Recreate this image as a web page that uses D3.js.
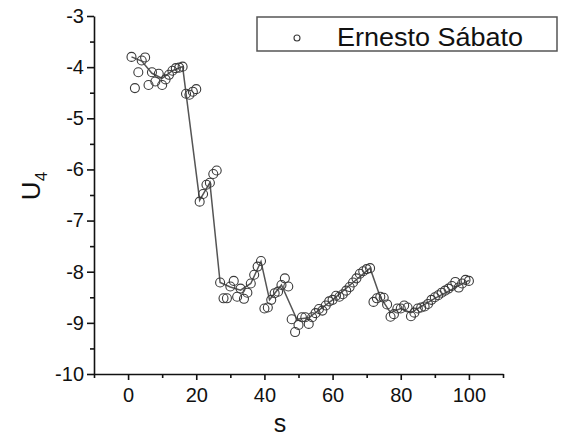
<!DOCTYPE html>
<html>
<head>
<meta charset="utf-8">
<script src="https://cdn.jsdelivr.net/npm/d3@7"></script>
<style>
  body { margin: 0; background: #fff; }
  text { font-family: "Liberation Sans", Arial, sans-serif; fill: #111; }
  .axis path, .axis line { stroke: #111; stroke-width: 1.6; }
  .axis text { font-size: 20px; }
</style>
</head>
<body>
<svg id="chart" width="561" height="441"></svg>
<script>
// step values (s) and U4 values
var steps = d3.range(1, 101);
var u4 = [
  -3.80, -4.41, -4.10, -3.87, -3.81, -4.35, -4.10, -4.28, -4.13, -4.35,
  -4.24, -4.15, -4.07, -4.02, -4.01, -3.99, -4.52, -4.54, -4.48, -4.43,
  -6.63, -6.48, -6.30, -6.26, -6.09, -6.02, -8.21, -8.52, -8.52, -8.29,
  -8.18, -8.49, -8.33, -8.53, -8.41, -8.23, -8.06, -7.90, -7.79, -8.72,
  -8.70, -8.55, -8.42, -8.39, -8.26, -8.13, -8.29, -8.93, -9.18, -9.04,
  -8.89, -8.89, -9.02, -8.89, -8.81, -8.73, -8.76, -8.66, -8.58, -8.55,
  -8.47, -8.49, -8.44, -8.37, -8.30, -8.21, -8.13, -8.04, -7.99, -7.95,
  -7.93, -8.59, -8.52, -8.49, -8.51, -8.64, -8.88, -8.83, -8.72, -8.72,
  -8.66, -8.70, -8.87, -8.80, -8.72, -8.70, -8.68, -8.63, -8.55, -8.50,
  -8.46, -8.41, -8.37, -8.33, -8.28, -8.20, -8.31, -8.23, -8.16, -8.18
];

// the grey guide line drawn under the points
var lineS = [1, 4, 7, 10, 13, 16, 21, 24, 27, 30, 33, 36, 39, 41.5, 45, 49.5, 53, 60, 66, 71, 74, 77, 80, 83, 90, 100];
var lineU = [-3.80, -3.88, -4.12, -4.22, -4.07, -3.99, -6.60, -6.26, -8.21, -8.30, -8.36, -8.23, -7.80, -8.55, -8.26, -8.93, -8.90, -8.55, -8.21, -7.93, -8.50, -8.80, -8.72, -8.80, -8.52, -8.17];

var xMajor = [0, 20, 40, 60, 80, 100];
var xMinor = [-10, 10, 30, 50, 70, 90, 110];
var yMajor = [-10, -9, -8, -7, -6, -5, -4, -3];
var yMinor = [-9.5, -8.5, -7.5, -6.5, -5.5, -4.5, -3.5];
var seriesName = "Ernesto Sábato";

var svg = d3.select("#chart");

var x = d3.scaleLinear().domain([-10, 110]).range([94, 503]);
var y = d3.scaleLinear().domain([-10, -3]).range([374, 16]);

// guide line
var pts = lineS.map(function (s, i) { return [s, lineU[i]]; });
svg.append("path")
  .datum(pts)
  .attr("fill", "none")
  .attr("stroke", "#555")
  .attr("stroke-width", 1.5)
  .attr("d", d3.line()
    .x(function (d) { return x(d[0]); })
    .y(function (d) { return y(d[1]); }));

// points
svg.append("g").selectAll("circle")
  .data(steps)
  .enter().append("circle")
  .attr("cx", function (d) { return x(d); })
  .attr("cy", function (d, i) { return y(u4[i]); })
  .attr("r", 4.5)
  .attr("fill", "none")
  .attr("stroke", "#3a3a3a")
  .attr("stroke-width", 1.1);

// x axis
svg.append("g")
  .attr("class", "axis")
  .attr("transform", "translate(0,374)")
  .call(d3.axisBottom(x).tickValues(xMinor).tickSize(4).tickSizeOuter(0).tickFormat(""));
svg.append("g")
  .attr("class", "axis")
  .attr("transform", "translate(0,374)")
  .call(d3.axisBottom(x).tickValues(xMajor).tickSize(6).tickSizeOuter(0).tickPadding(8))
  .call(function (g) { g.select(".domain").remove(); });

// y axis
var fmt = function (d) { return String(d); };
svg.append("g")
  .attr("class", "axis")
  .attr("transform", "translate(94,0)")
  .call(d3.axisLeft(y).tickValues(yMinor).tickSize(4).tickSizeOuter(0).tickFormat(""));
svg.append("g")
  .attr("class", "axis")
  .attr("transform", "translate(94,0)")
  .call(d3.axisLeft(y).tickValues(yMajor).tickSize(7).tickSizeOuter(0).tickPadding(3).tickFormat(fmt))
  .call(function (g) { g.select(".domain").remove(); });

svg.selectAll(".axis text").attr("fill", "#111");

// axis titles
svg.append("text")
  .attr("x", 280)
  .attr("y", 432)
  .attr("text-anchor", "middle")
  .style("font-size", "25px")
  .text("s");

var yt = svg.append("text")
  .attr("transform", "translate(40,186)rotate(-90)")
  .attr("text-anchor", "middle")
  .style("font-size", "26px");
yt.append("tspan").text("U");
yt.append("tspan").attr("dy", 7).style("font-size", "17px").text("4");

// legend
svg.append("rect")
  .attr("x", 257)
  .attr("y", 17)
  .attr("width", 300)
  .attr("height", 34)
  .attr("fill", "#fff")
  .attr("stroke", "#555")
  .attr("stroke-width", 1.5);
svg.append("circle")
  .attr("cx", 297)
  .attr("cy", 38)
  .attr("r", 3)
  .attr("fill", "none")
  .attr("stroke", "#3a3a3a")
  .attr("stroke-width", 1.1);
svg.append("text")
  .attr("x", 337)
  .attr("y", 46)
  .attr("textLength", 186)
  .attr("lengthAdjust", "spacingAndGlyphs")
  .style("font-size", "25px")
  .text(seriesName);
</script>
</body>
</html>
